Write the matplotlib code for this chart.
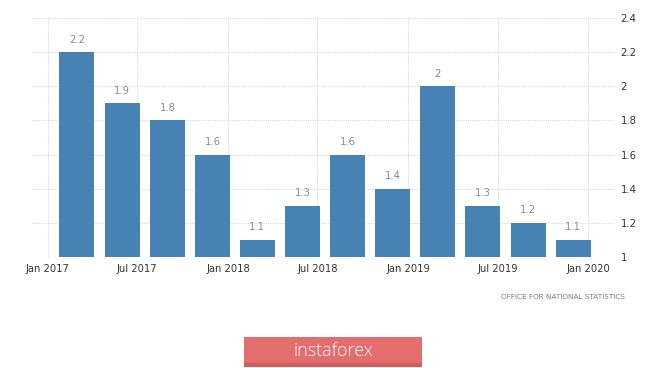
import matplotlib
matplotlib.use("Agg")
import matplotlib.pyplot as plt
import matplotlib.dates as mdates
import pandas as pd

# quarterly values (bars sit on the last month of each quarter)
quarters = pd.date_range("2017-03-01", "2019-12-01", freq="3MS")
values = [2.2, 1.9, 1.8, 1.6, 1.1, 1.3, 1.6, 1.4, 2.0, 1.3, 1.2, 1.1]
y_ticks = [1, 1.2, 1.4, 1.6, 1.8, 2, 2.2, 2.4]
x_ticks = pd.date_range("2017-01-01", "2020-01-01", freq="6MS")

BAR = "#4682B4"
GRID = "#d9d9d9"

fig = plt.figure(figsize=(6.65, 3.68), dpi=100)
ax = fig.add_axes([32 / 665, 1 - 257 / 368, (615 - 32) / 665, (257 - 18) / 368])

ax.bar(quarters, [v - 1 for v in values], bottom=1, width=71,
       color=BAR, edgecolor="none", zorder=3)

for d, v in zip(quarters, values):
    ax.annotate(f"{v:g}", (d, v), xytext=(0, 5.5), textcoords="offset points",
                ha="center", va="bottom", fontsize=7.2, color="#8a8a8a")

ax.set_ylim(1, 2.4)
ax.set_xlim(pd.Timestamp("2016-11-30"), pd.Timestamp("2020-02-24"))
ax.set_yticks(y_ticks)
ax.set_yticklabels([f"{t:g}" for t in y_ticks])
ax.set_xticks(x_ticks)
ax.xaxis.set_major_formatter(mdates.DateFormatter("%b %Y"))

ax.yaxis.tick_right()
ax.tick_params(axis="y", length=0, pad=4, labelsize=7.2, labelcolor="#333333")
ax.tick_params(axis="x", length=0, pad=5, labelsize=7.2, labelcolor="#333333")
ax.grid(True, color=GRID, linestyle=(0, (1, 1)), linewidth=0.8, zorder=0)
for s in ax.spines.values():
    s.set_visible(False)

fig.text(625 / 665, 1 - 297 / 368, "OFFICE FOR NATIONAL STATISTICS",
         ha="right", va="center", fontsize=5.2, color="#7a7a7a")

# instaforex banner
logo = fig.add_axes([244 / 665, 1 - 367 / 368, (422 - 244) / 665, 30 / 368])
logo.set_xlim(0, 1)
logo.set_ylim(0, 1)
logo.axis("off")
logo.add_patch(plt.Rectangle((0, 0), 1, 1, color="#e46e6e"))
logo.add_patch(plt.Rectangle((0, 0), 1, 0.12, color="#d06060"))
logo.text(0.5, 0.52, "instaforex", ha="center", va="center",
          fontsize=13, color="white", family="Open Sans", fontweight="light")

fig.savefig("out.png", dpi=100)
